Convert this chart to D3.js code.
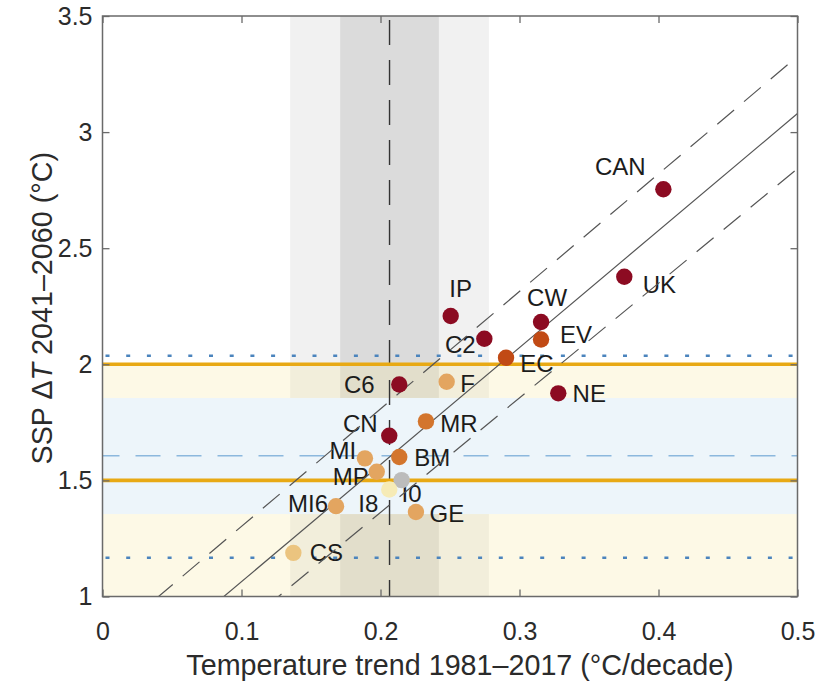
<!DOCTYPE html>
<html>
<head>
<meta charset="utf-8">
<script src="https://cdn.jsdelivr.net/npm/d3@7"></script>
<style>
  body { margin: 0; background: #fff; }
  text { font-family: "Liberation Sans", Arial, Helvetica, sans-serif; }
</style>
</head>
<body>
<svg id="chart" width="826" height="685"></svg>
<script>
// ---- data -----------------------------------------------------------
const models   = ["CAN", "UK", "IP", "CW", "EV", "C2", "EC", "NE", "F", "C6",
                  "CN", "MR", "MI", "BM", "MP", "I0", "I8", "MI6", "GE", "CS"];
// observed-period warming trend (°C/decade)
const trend    = [0.4035, 0.3754, 0.2505, 0.3155, 0.3155, 0.2747, 0.2903, 0.3279, 0.2476, 0.2135,
                  0.2063, 0.2327, 0.1888, 0.2135, 0.1973, 0.2152, 0.2063, 0.1680, 0.2255, 0.1373];
// projected warming 2041–2060 (°C)
const warming  = [2.754, 2.377, 2.208, 2.182, 2.107, 2.110, 2.028, 1.875, 1.925, 1.913,
                  1.692, 1.754, 1.595, 1.601, 1.537, 1.501, 1.461, 1.389, 1.364, 1.188];
// colour class of each model
const colorClass = [0, 0, 0, 0, 1, 0, 1, 0, 3, 0,
                    0, 2, 3, 2, 3, 6, 5, 3, 3, 4];
const classColors = ["#8c0b22", "#c14a15", "#d3752d", "#e3a560", "#ebc47f", "#f6ebb6", "#bcbcbc"];

const xTicks = [0, 0.1, 0.2, 0.3, 0.4, 0.5];
const yTicks = [1, 1.5, 2, 2.5, 3, 3.5];

// regression fit and prediction bounds: [intercept, slope]
const fitCentre = [0.56, 5.04];
const fitUpper  = [0.796, 5.06];
const fitLower  = [0.375, 4.935];

const observedTrend  = [0.2065];
const trendInner     = [0.171, 0.242];
const trendOuter     = [0.135, 0.278];
const targetLevels   = [1.5, 2.0];
const targetBand     = [0.9, 2.0];
const constrainedMean   = [1.606];
const constrainedLikely = [1.355, 1.855];
const constrainedRange  = [1.167, 2.037];

// label placement around each dot (pixels)
const labelOffset = {
  CAN: [-43, -23], UK: [35, 8],   IP: [10, -28], CW: [6, -25],  EV: [35, -5],
  C2:  [-24, 6],   EC: [31, 6],   NE: [31, 0],   F:  [21, 2],   C6: [-40, 0],
  CN:  [-29, -12], MR: [33, 2],   MI: [-22, -8], BM: [33, 0],   MP: [-26, 5],
  I0:  [10, 13],   I8: [-21, 14], MI6: [-28, -3], GE: [31, 1],  CS: [33, 0]
};

// ---- layout ---------------------------------------------------------
const svg = d3.select("#chart");
const L = 102.5, R = 797.5, T = 16, B = 596.5;
const x = d3.scaleLinear().domain([0, 0.5]).range([L, R]);
const y = d3.scaleLinear().domain([1, 3.5]).range([B, T]);

svg.append("defs").append("clipPath").attr("id", "plot-clip")
  .append("rect").attr("x", L).attr("y", T).attr("width", R - L).attr("height", B - T);

const plot = svg.append("g").attr("clip-path", "url(#plot-clip)");

// vertical uncertainty bands of the observed trend
plot.append("rect")
  .attr("x", x(trendOuter[0])).attr("width", x(trendOuter[1]) - x(trendOuter[0]))
  .attr("y", T).attr("height", B - T).attr("fill", "#f1f1f1");
plot.append("rect")
  .attr("x", x(trendInner[0])).attr("width", x(trendInner[1]) - x(trendInner[0]))
  .attr("y", T).attr("height", B - T).attr("fill", "#dbdbdb");

// warming-target band (translucent) and constrained likely range (opaque)
plot.append("rect")
  .attr("x", L).attr("width", R - L)
  .attr("y", y(targetBand[1])).attr("height", y(targetBand[0]) - y(targetBand[1]))
  .attr("fill", "#f8e6a0").attr("fill-opacity", 0.26);
plot.append("rect")
  .attr("x", L).attr("width", R - L)
  .attr("y", y(constrainedLikely[1])).attr("height", y(constrainedLikely[0]) - y(constrainedLikely[1]))
  .attr("fill", "#edf5fa");

// observed trend
plot.append("line")
  .attr("x1", x(observedTrend[0])).attr("x2", x(observedTrend[0]))
  .attr("y1", T).attr("y2", B)
  .attr("stroke", "#333").attr("stroke-width", 1.4).attr("stroke-dasharray", "25,15")
  .attr("stroke-dashoffset", -4);

// constrained range lines
plot.selectAll("line.range").data(constrainedRange).join("line")
  .attr("class", "range")
  .attr("x1", L).attr("x2", R).attr("y1", d => y(d)).attr("y2", d => y(d))
  .attr("stroke", "#4b84bd").attr("stroke-width", 2.4).attr("stroke-dasharray", "4,16.7")
  .attr("stroke-dashoffset", -3);
plot.selectAll("line.mean").data(constrainedMean).join("line")
  .attr("class", "mean")
  .attr("x1", L).attr("x2", R).attr("y1", d => y(d)).attr("y2", d => y(d))
  .attr("stroke", "#8cb8dd").attr("stroke-width", 1.6).attr("stroke-dasharray", "25,16")
  .attr("stroke-dashoffset", 8);

// warming targets
plot.selectAll("line.target").data(targetLevels).join("line")
  .attr("class", "target")
  .attr("x1", L).attr("x2", R).attr("y1", d => y(d)).attr("y2", d => y(d))
  .attr("stroke", "#e8a914").attr("stroke-width", 3.6);

// model labels
plot.selectAll("text.model").data(models).join("text")
  .attr("class", "model")
  .attr("x", (d, i) => x(trend[i]) + labelOffset[d][0])
  .attr("y", (d, i) => y(warming[i]) + labelOffset[d][1])
  .attr("dy", "0.36em")
  .attr("text-anchor", "middle")
  .attr("font-size", 24)
  .attr("fill", "#1c1c1c")
  .text(d => d);

// regression fit and prediction lines
const fitLines = [
  { coef: fitCentre, dash: null },
  { coef: fitUpper,  dash: "22,13" },
  { coef: fitLower,  dash: "22,13" }
];
const fitAt = (c, v) => c[0] + c[1] * v;
plot.selectAll("line.fit").data(fitLines).join("line")
  .attr("class", "fit")
  .attr("x1", x(0)).attr("x2", x(0.5))
  .attr("y1", d => y(fitAt(d.coef, 0))).attr("y2", d => y(fitAt(d.coef, 0.5)))
  .attr("stroke", "#555").attr("stroke-width", 1.2)
  .attr("stroke-dasharray", d => d.dash);

// model dots
plot.selectAll("circle.model").data(models).join("circle")
  .attr("class", "model")
  .attr("cx", (d, i) => x(trend[i]))
  .attr("cy", (d, i) => y(warming[i]))
  .attr("r", 8.2)
  .attr("fill", (d, i) => classColors[colorClass[i]]);

// ---- axes -----------------------------------------------------------
const fmt = d => String(d);
const axisStyle = g => {
  g.select(".domain").remove();
  g.selectAll(".tick line").attr("stroke", "#6a6a6a").attr("stroke-width", 1.3);
  g.selectAll(".tick text").attr("font-size", 25).attr("fill", "#2b2b2b")
    .attr("font-family", "'Liberation Sans', Arial, sans-serif");
};
svg.append("g").attr("transform", `translate(0,${B})`)
  .call(d3.axisBottom(x).tickValues(xTicks).tickFormat(fmt).tickSize(-7).tickSizeOuter(0).tickPadding(26))
  .call(axisStyle);
svg.append("g").attr("transform", `translate(${L},0)`)
  .call(d3.axisLeft(y).tickValues(yTicks).tickFormat(fmt).tickSize(-7).tickSizeOuter(0).tickPadding(10))
  .call(axisStyle);
svg.append("g").attr("transform", `translate(0,${T})`)
  .call(d3.axisTop(x).tickValues(xTicks).tickFormat("").tickSize(-7).tickSizeOuter(0))
  .call(axisStyle);
svg.append("g").attr("transform", `translate(${R},0)`)
  .call(d3.axisRight(y).tickValues(yTicks).tickFormat("").tickSize(-7).tickSizeOuter(0))
  .call(axisStyle);

svg.append("rect")
  .attr("x", L).attr("y", T).attr("width", R - L).attr("height", B - T)
  .attr("fill", "none").attr("stroke", "#6a6a6a").attr("stroke-width", 1.5);

// axis titles
svg.append("text")
  .attr("x", 460).attr("y", 675)
  .attr("text-anchor", "middle").attr("font-size", 28.7).attr("fill", "#2b2b2b")
  .text("Temperature trend 1981–2017 (°C/decade)");

const yt = svg.append("text")
  .attr("transform", `translate(52,${(T + B) / 2 + 2}) rotate(-90)`)
  .attr("text-anchor", "middle").attr("font-size", 28.7).attr("fill", "#2b2b2b");
yt.append("tspan").text("SSP Δ");
yt.append("tspan").attr("font-style", "italic").text("T");
yt.append("tspan").text(" 2041–2060 (°C)");
</script>
</body>
</html>
